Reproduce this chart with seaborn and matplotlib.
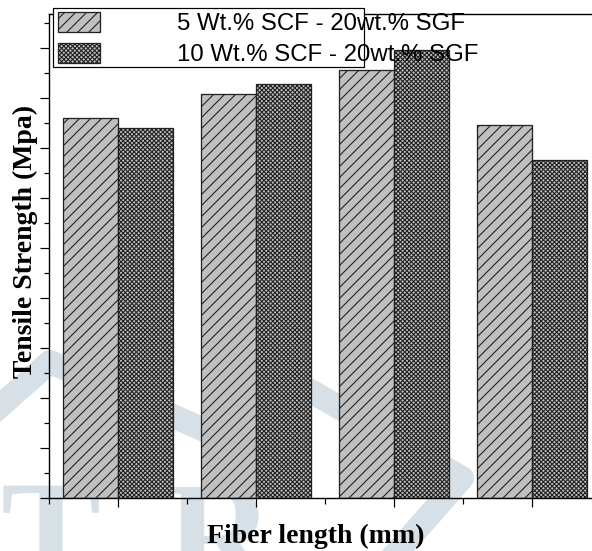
import numpy as np
import pandas as pd
import seaborn as sns
import matplotlib.pyplot as plt
from matplotlib.patches import Patch, Rectangle
from matplotlib.lines import Line2D
from matplotlib.ticker import MultipleLocator, FixedLocator

# data (no tick labels in the original)
fiber_length = ['L1', 'L2', 'L3', 'L4']
series_names = ['5 Wt.% SCF - 20wt.% SGF', '10 Wt.% SCF - 20wt.% SGF']
scf5_strength = [76.0, 80.8, 85.6, 74.6]
scf10_strength = [74.0, 82.8, 89.6, 67.6]
hatches = ['////', 'x' * 10]

# figure geometry (pixels)
DPI = 132
W, H = 592, 551
P = 72 / DPI  # points per pixel

df = pd.DataFrame({
    'length': fiber_length * 2,
    'composite': [series_names[0]] * 4 + [series_names[1]] * 4,
    'strength': scf5_strength + scf10_strength,
})

plt.rcParams['hatch.linewidth'] = 1.1 * P
plt.rcParams['hatch.color'] = '#111111'

fig = plt.figure(figsize=(W / DPI, H / DPI), dpi=DPI)
ax = fig.add_axes([49 / W, (H - 498) / H, 552 / W, 484 / H])
ax.set_facecolor('none')

fill = '#c0c0c0'
sns.barplot(data=df, x='length', y='strength', hue='composite',
            palette=[fill, fill], saturation=1, width=0.8, gap=0,
            errorbar=None, edgecolor='#222222', linewidth=1.3 * P,
            legend=False, ax=ax)

for cont, h in zip(ax.containers, hatches):
    for bar in cont:
        bar.set_hatch(h)

ax.set_xlim(-0.5, 3.5)
ax.set_ylim(0, 96.8)
ax.yaxis.set_major_locator(MultipleLocator(10))
ax.yaxis.set_minor_locator(MultipleLocator(5))
ax.xaxis.set_minor_locator(FixedLocator([-0.5, 0.5, 1.5, 2.5, 3.5]))
ax.tick_params(which='major', direction='out', length=9 * P, width=1.2 * P,
               color='black', labelbottom=False, labelleft=False)
ax.tick_params(which='minor', direction='out', length=5.5 * P, width=1.2 * P,
               color='black')
for s in ax.spines.values():
    s.set_linewidth(1.4 * P)
    s.set_color('black')

serif = ['Liberation Serif', 'DejaVu Serif']
ax.set_xlabel('Fiber length (mm)', family=serif, fontweight='bold',
              fontsize=27.8 * P)
ax.set_ylabel('Tensile Strength (Mpa)', family=serif, fontweight='bold',
              fontsize=27.8 * P)
ax.xaxis.set_label_coords((315.5 - 49) / 552, (498 - 524) / 484)
ax.yaxis.set_label_coords((38 - 49) / 552, (498 - 241.5) / 484)

# legend: the frame in the original is narrower than the text
fs = 24.0
frame = Rectangle((53 / W, 1 - 67 / H), 311 / W, 59 / H,
                  transform=fig.transFigure, facecolor='white',
                  edgecolor='black', linewidth=1.2 * P, zorder=1)
fig.add_artist(frame)
handles = [Patch(facecolor=fill, edgecolor='#222222', hatch=h,
                 linewidth=1.3 * P) for h in hatches]
fig.legend(handles, series_names, loc='upper left',
           bbox_to_anchor=(58 / W, 1 - 12 / H), frameon=False,
           borderpad=0, borderaxespad=0, handlelength=42 / fs,
           handleheight=21 / fs, handletextpad=77 / fs, labelspacing=0.33,
           prop={'family': ['Liberation Sans', 'DejaVu Sans'],
                 'size': fs * P})

# faint watermark behind the chart
wm = '#d6e0e6'
def fx(x):
    return x / W
def fy(y):
    return 1 - y / H
fig.add_artist(Line2D([fx(-10), fx(50), fx(200), fx(250)],
                      [fy(415), fy(362), fy(428), fy(452)],
                      transform=fig.transFigure, color=wm,
                      linewidth=24 * P, solid_joinstyle='round', zorder=-2))
fig.add_artist(Line2D([fx(300), fx(462), fx(390)],
                      [fy(385), fy(478), fy(560)],
                      transform=fig.transFigure, color=wm,
                      linewidth=24 * P, solid_joinstyle='round', zorder=-2))
fig.text(fx(51), fy(584), 'T', ha='center', va='baseline', color=wm,
         family=serif, fontweight='bold', fontsize=150 * P, zorder=-1)
fig.text(fx(165), fy(586), 'R', ha='left', va='baseline', color=wm,
         family=serif, fontweight='bold', fontsize=150 * P, zorder=-1)

fig.savefig('out.png', dpi=DPI)
